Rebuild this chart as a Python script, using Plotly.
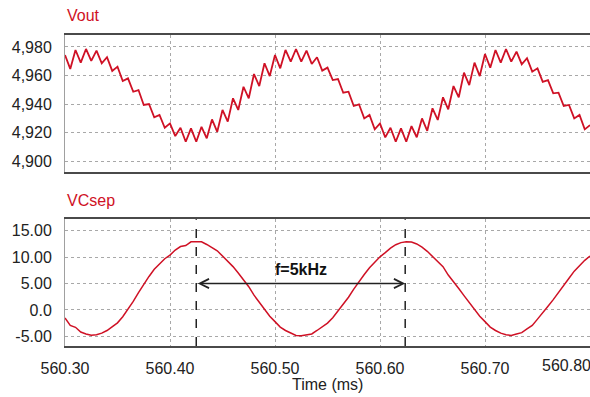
import plotly.graph_objects as go

# ---------------- data ----------------
time_ms = [
    560.300, 560.305, 560.310, 560.315, 560.320, 560.325, 560.330, 560.335, 560.340, 560.345,
    560.350, 560.355, 560.360, 560.365, 560.370, 560.375, 560.380, 560.385, 560.390, 560.395,
    560.400, 560.405, 560.410, 560.415, 560.420, 560.425, 560.430, 560.435, 560.440, 560.445,
    560.450, 560.455, 560.460, 560.465, 560.470, 560.475, 560.480, 560.485, 560.490, 560.495,
    560.500, 560.505, 560.510, 560.515, 560.520, 560.525, 560.530, 560.535, 560.540, 560.545,
    560.550, 560.555, 560.560, 560.565, 560.570, 560.575, 560.580, 560.585, 560.590, 560.595,
    560.600, 560.605, 560.610, 560.615, 560.620, 560.625, 560.630, 560.635, 560.640, 560.645,
    560.650, 560.655, 560.660, 560.665, 560.670, 560.675, 560.680, 560.685, 560.690, 560.695,
    560.700, 560.705, 560.710, 560.715, 560.720, 560.725, 560.730, 560.735, 560.740, 560.745,
    560.750, 560.755, 560.760, 560.765, 560.770, 560.775, 560.780, 560.785, 560.790, 560.795,
    560.800,
]

vout = [
    4.9744, 4.9646, 4.9779, 4.9690, 4.9786, 4.9702, 4.9774, 4.9686, 4.9728, 4.9632,
    4.9662, 4.9561, 4.9580, 4.9486, 4.9498, 4.9393, 4.9400, 4.9306, 4.9323, 4.9233,
    4.9264, 4.9175, 4.9233, 4.9135, 4.9229, 4.9135, 4.9240, 4.9159, 4.9292, 4.9205,
    4.9358, 4.9276, 4.9440, 4.9358, 4.9521, 4.9440, 4.9610, 4.9526, 4.9686, 4.9596,
    4.9744, 4.9650, 4.9779, 4.9697, 4.9786, 4.9697, 4.9774, 4.9681, 4.9728, 4.9634,
    4.9655, 4.9568, 4.9575, 4.9479, 4.9486, 4.9386, 4.9398, 4.9299, 4.9323, 4.9222,
    4.9264, 4.9166, 4.9233, 4.9135, 4.9229, 4.9135, 4.9245, 4.9166, 4.9299, 4.9212,
    4.9370, 4.9288, 4.9447, 4.9363, 4.9526, 4.9447, 4.9620, 4.9533, 4.9690, 4.9596,
    4.9751, 4.9655, 4.9779, 4.9690, 4.9786, 4.9697, 4.9767, 4.9679, 4.9721, 4.9627,
    4.9650, 4.9556, 4.9568, 4.9475, 4.9479, 4.9386, 4.9393, 4.9299, 4.9323, 4.9222,
    4.9252,
]

vcsep = [
    -1.52, -2.93, -3.30, -4.20, -4.55, -4.81, -4.72, -4.40, -3.90, -3.25,
    -2.45, -1.30, 0.07, 1.60, 3.27, 4.90, 6.34, 7.70, 8.72, 9.70,
    10.39, 11.35, 12.00, 12.20, 12.90, 12.85, 12.90, 12.40, 11.85, 11.20,
    10.20, 9.25, 8.20, 7.00, 5.70, 4.40, 2.80, 1.40, 0.10, -1.20,
    -2.22, -3.25, -3.90, -4.42, -4.84, -4.90, -4.75, -4.55, -3.90, -3.20,
    -2.50, -1.50, -0.25, 1.10, 2.40, 3.95, 5.40, 6.70, 8.00, 9.05,
    10.06, 10.85, 11.70, 12.35, 12.75, 12.91, 12.85, 12.50, 11.90, 11.10,
    10.10, 9.30, 8.20, 6.60, 5.40, 4.05, 2.70, 1.40, 0.10, -1.20,
    -2.22, -3.25, -3.90, -4.40, -4.70, -4.85, -4.58, -4.30, -3.60, -2.95,
    -1.75, -0.60, 0.70, 1.95, 3.24, 4.70, 6.00, 7.35, 8.40, 9.40,
    10.20,
]

x_tickvals = [560.30, 560.40, 560.50, 560.60, 560.70, 560.80]
x_ticktext = ["560.30", "560.40", "560.50", "560.60", "560.70", ""]
last_x_label = "560.80"

vout_tickvals = [4.900, 4.920, 4.940, 4.960, 4.980]
vout_ticktext = ["4,900", "4,920", "4,940", "4,960", "4,980"]

vcsep_tickvals = [-5, 0, 5, 10, 15]
vcsep_ticktext = ["-5.00", "0.0", "5.00", "10.00", "15.00"]

cursor_times = [560.425, 560.624]
arrow_level = 5.0
label_level = 7.7
freq_label = "f=5kHz"

x_range = [560.30, 560.80]
vout_range = [4.8923, 4.9884]
vcsep_range = [-6.84, 17.17]

# ---------------- styling ----------------
RED = "#cf1125"
FONT = "Liberation Sans, Arial, sans-serif"
GRID = "#a8a8a8"
FRAME = "#4a4a4a"
FS = 16

fig = go.Figure()
fig.add_trace(go.Scatter(x=time_ms, y=vout, mode="lines",
                         line=dict(color=RED, width=1.8), xaxis="x", yaxis="y",
                         showlegend=False, hoverinfo="skip"))
fig.add_trace(go.Scatter(x=time_ms, y=vcsep, mode="lines",
                         line=dict(color=RED, width=1.5), xaxis="x2", yaxis="y2",
                         showlegend=False, hoverinfo="skip"))

common_x = dict(range=x_range, tickvals=x_tickvals, showgrid=True, gridcolor=GRID,
                griddash="dot", gridwidth=1, showline=True, mirror=True,
                linecolor=FRAME, linewidth=1.5, ticks="", zeroline=False)
common_y = dict(showgrid=True, gridcolor=GRID, griddash="dot", gridwidth=1,
                showline=True, linecolor="#a0a0a0", linewidth=1, ticks="",
                zeroline=False, ticklabelstandoff=9,
                tickfont=dict(family=FONT, size=FS, color="#222"))

fig.update_layout(
    width=590, height=397,
    margin=dict(l=65, r=0, t=35, b=51),
    paper_bgcolor="white", plot_bgcolor="white",
    font=dict(family=FONT, size=FS, color="#222"),
    xaxis=dict(domain=[0, 1], anchor="y", showticklabels=False, **common_x),
    yaxis=dict(domain=[0.5595, 1], anchor="x", range=vout_range,
               tickvals=vout_tickvals, ticktext=vout_ticktext, **common_y),
    xaxis2=dict(domain=[0, 1], anchor="y2", ticktext=x_ticktext,
                ticklabelstandoff=7,
                tickfont=dict(family=FONT, size=FS, color="#222"), **common_x),
    yaxis2=dict(domain=[0, 0.4074], anchor="x2", range=vcsep_range,
                tickvals=vcsep_tickvals, ticktext=vcsep_ticktext, **common_y),
)

# cursor lines in the lower plot
for t in cursor_times:
    fig.add_shape(type="line", xref="x2", yref="y2 domain", x0=t, x1=t, y0=0, y1=1,
                  line=dict(color="#222", width=1.5, dash="dash"))

# double arrow between cursors
fig.add_annotation(x=cursor_times[1], y=arrow_level, ax=cursor_times[0], ay=arrow_level,
                   xref="x2", yref="y2", axref="x2", ayref="y2", text="",
                   showarrow=True, arrowhead=5, startarrowhead=5, arrowside="end+start",
                   arrowsize=1.3, startarrowsize=1.3, arrowwidth=1.4, arrowcolor="#222")
fig.add_annotation(x=sum(cursor_times) / len(cursor_times), y=label_level, xref="x2", yref="y2",
                   text="<b>" + freq_label + "</b>", showarrow=False,
                   font=dict(family=FONT, size=16, color="#111"))

# panel titles
fig.add_annotation(x=0, y=1, xref="paper", yref="paper", xanchor="left", yanchor="middle",
                   yshift=20, text="Vout", showarrow=False,
                   font=dict(family=FONT, size=FS, color=RED))
fig.add_annotation(x=0, y=0.4074, xref="paper", yref="paper", xanchor="left", yanchor="middle",
                   yshift=19, text="VCsep", showarrow=False,
                   font=dict(family=FONT, size=FS, color=RED))

# last x tick label (kept inside the window, as in the reference)
fig.add_annotation(x=x_tickvals[-1], y=0, xref="x2", yref="paper", xanchor="right",
                   yanchor="top", yshift=-9, xshift=3, text=last_x_label, showarrow=False,
                   font=dict(family=FONT, size=FS, color="#222"))

# x axis title
fig.add_annotation(x=0.5, y=0, xref="paper", yref="paper", xanchor="center", yanchor="top",
                   yshift=-28, text="Time (ms)", showarrow=False,
                   font=dict(family=FONT, size=FS, color="#222"))

fig.write_html("out.html")
